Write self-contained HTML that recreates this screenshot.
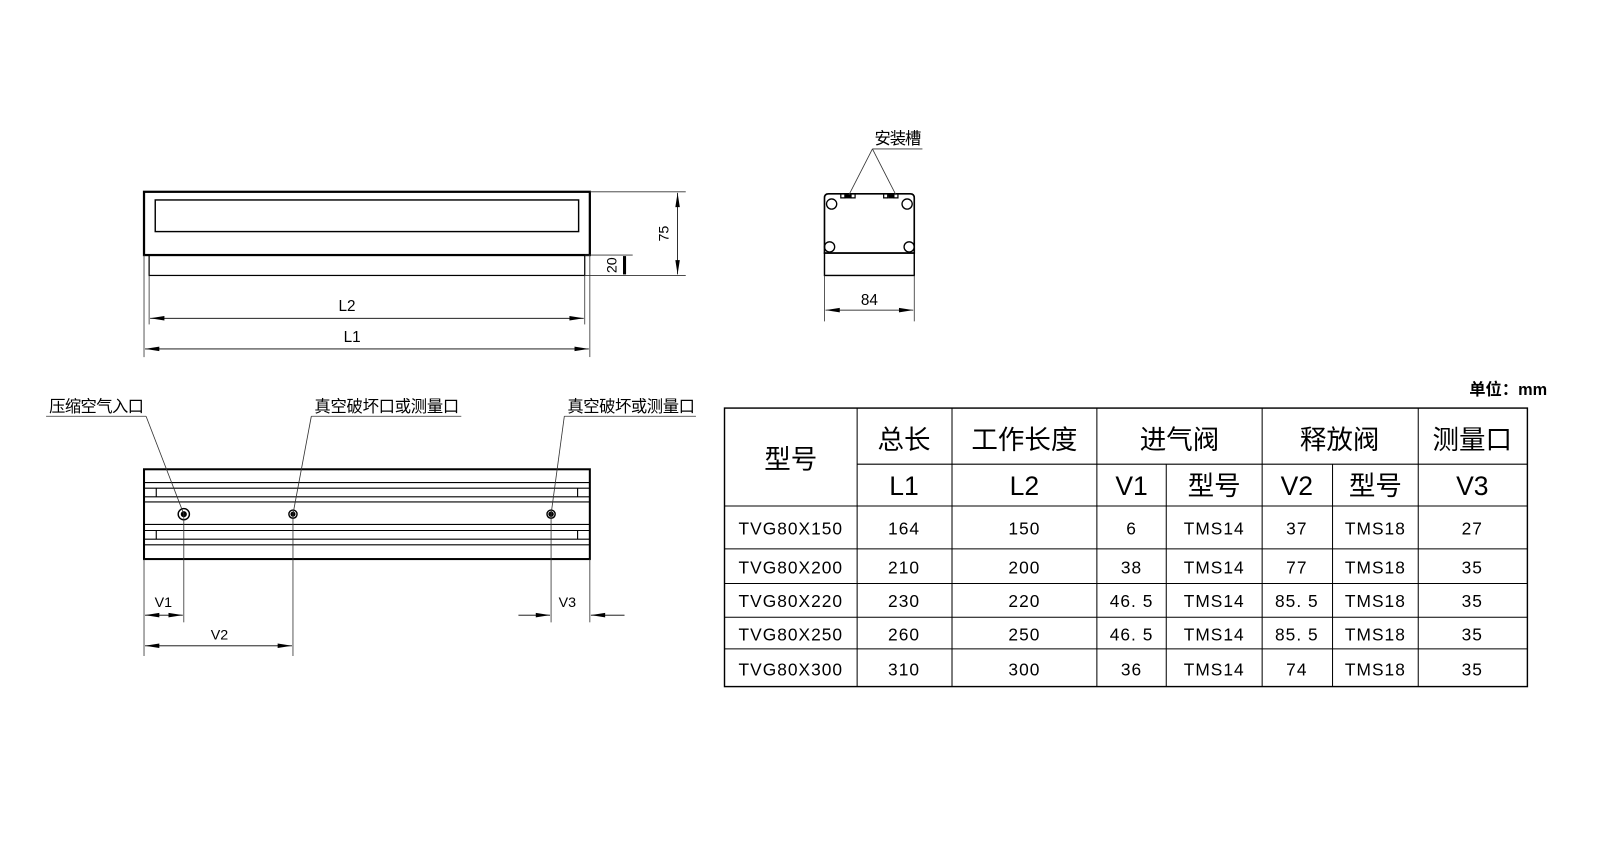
<!DOCTYPE html>
<html><head><meta charset="utf-8"><style>
html,body{margin:0;padding:0;background:#fff;}
svg{display:block}
.c{font-family:"Liberation Sans","Noto Sans CJK SC",sans-serif;}
</style></head><body>
<svg width="1600" height="859" viewBox="0 0 1568 842" xmlns="http://www.w3.org/2000/svg" class="c">
<g fill="none" stroke="#000">
<!-- top view -->
<rect x="141" y="188" width="437" height="62" stroke-width="2.2"/>
<rect x="152" y="196" width="415" height="31" stroke-width="1.4"/>
<rect x="146" y="250" width="427" height="20" stroke-width="1.2"/>
<g stroke-width="0.8" stroke="#333">
<line x1="578" y1="188" x2="672" y2="188"/>
<line x1="573" y1="270" x2="672" y2="270"/>
<line x1="573" y1="250" x2="620" y2="250"/>
<line x1="146" y1="270" x2="146" y2="318"/>
<line x1="573" y1="270" x2="573" y2="318"/>
<line x1="141" y1="250" x2="141" y2="350"/>
<line x1="578" y1="250" x2="578" y2="350"/>
</g>
<line x1="664" y1="189" x2="664" y2="269" stroke-width="0.8"/>
<line x1="612" y1="251" x2="612" y2="269" stroke-width="3"/>
<line x1="147" y1="312" x2="572" y2="312" stroke-width="0.8"/>
<line x1="142" y1="342" x2="577" y2="342" stroke-width="0.8"/>
<!-- side view -->
<path d="M812,190 H892 Q896,190 896,194 V248 H808 V194 Q808,190 812,190Z" stroke-width="1.6"/>
<rect x="808" y="248" width="88" height="22" stroke-width="1.4"/>
<circle cx="815" cy="200" r="5" stroke-width="1.3"/>
<circle cx="889" cy="200" r="5" stroke-width="1.3"/>
<circle cx="813" cy="242" r="5" stroke-width="1.3"/>
<circle cx="891" cy="242" r="5" stroke-width="1.3"/>
<path d="M824,190 v4 h4 v-3 h6 v3 h4 v-4 M866,190 v4 h4 v-3 h6 v3 h4 v-4" stroke-width="1.2"/>
<rect x="829" y="191" width="5" height="3" fill="#000"/>
<rect x="871" y="191" width="5" height="3" fill="#000"/>
<g stroke-width="0.8" stroke="#333">
<line x1="808" y1="270" x2="808" y2="315"/>
<line x1="896" y1="270" x2="896" y2="315"/>
<line x1="855" y1="146" x2="904" y2="146"/>
<line x1="855" y1="146" x2="832" y2="191"/>
<line x1="855" y1="146" x2="878" y2="191"/>
</g>
<line x1="809" y1="304" x2="895" y2="304" stroke-width="0.8"/>
<!-- bottom view -->
<rect x="141" y="460" width="437" height="88" stroke-width="2"/>
<g stroke-width="1.1">
<line x1="141" y1="473" x2="578" y2="473"/><line x1="141" y1="478.5" x2="578" y2="478.5"/>
<line x1="141" y1="487" x2="578" y2="487"/><line x1="141" y1="492" x2="578" y2="492"/>
<line x1="141" y1="514" x2="578" y2="514"/><line x1="141" y1="520" x2="578" y2="520"/>
<line x1="141" y1="528.5" x2="578" y2="528.5"/><line x1="141" y1="534" x2="578" y2="534"/>
<line x1="153" y1="478.5" x2="153" y2="487"/><line x1="566" y1="478.5" x2="566" y2="487"/>
<line x1="153" y1="520" x2="153" y2="528.5"/><line x1="566" y1="520" x2="566" y2="528.5"/>
</g>
<circle cx="180" cy="504" r="5.5" stroke-width="1.4"/>
<circle cx="180" cy="504" r="2.5" fill="#000"/>
<circle cx="287" cy="504" r="4" stroke-width="1.4"/><circle cx="287" cy="504" r="2" fill="#000"/>
<circle cx="540" cy="504" r="4" stroke-width="1.4"/><circle cx="540" cy="504" r="2.2" fill="#000"/>
<g stroke-width="0.8" stroke="#333">
<line x1="180" y1="504" x2="180" y2="610"/>
<line x1="287" y1="504" x2="287" y2="643"/>
<line x1="540" y1="504" x2="540" y2="610"/>
<line x1="141" y1="548" x2="141" y2="643"/>
<line x1="578" y1="548" x2="578" y2="610"/>
<line x1="45" y1="408" x2="143" y2="408"/><line x1="143" y1="408" x2="180" y2="504"/>
<line x1="305" y1="408" x2="452" y2="408"/><line x1="305" y1="408" x2="287" y2="504"/>
<line x1="553" y1="408" x2="682" y2="408"/><line x1="553" y1="408" x2="540" y2="504"/>
</g>
<line x1="142" y1="603" x2="179" y2="603" stroke-width="0.8"/>
<line x1="142" y1="633" x2="286" y2="633" stroke-width="0.8"/>
<line x1="508" y1="603" x2="539" y2="603" stroke-width="0.8"/>
<line x1="612" y1="603" x2="579" y2="603" stroke-width="0.8"/>
<!-- table -->
<rect x="710" y="400" width="787" height="273" stroke-width="1.4"/>
<g stroke-width="1">
<line x1="840" y1="455" x2="1497" y2="455"/>
<line x1="710" y1="496" x2="1497" y2="496"/>
<line x1="710" y1="538" x2="1497" y2="538"/>
<line x1="710" y1="572" x2="1497" y2="572"/>
<line x1="710" y1="605" x2="1497" y2="605"/>
<line x1="710" y1="636" x2="1497" y2="636"/>
<line x1="840" y1="400" x2="840" y2="673"/>
<line x1="933" y1="400" x2="933" y2="673"/>
<line x1="1075" y1="400" x2="1075" y2="673"/>
<line x1="1143" y1="455" x2="1143" y2="673"/>
<line x1="1237" y1="400" x2="1237" y2="673"/>
<line x1="1306" y1="455" x2="1306" y2="673"/>
<line x1="1390" y1="400" x2="1390" y2="673"/>
</g>
</g>
<!-- arrowheads -->
<g fill="#000" stroke="none">
<polygon points="147,312 161,309.8 161,314.2"/><polygon points="572,312 558,309.8 558,314.2"/>
<polygon points="142,342 156,339.8 156,344.2"/><polygon points="577,342 563,339.8 563,344.2"/>
<polygon points="664,189 661.8,203 666.2,203"/><polygon points="664,269 661.8,255 666.2,255"/>
<polygon points="809,304 823,301.8 823,306.2"/><polygon points="895,304 881,301.8 881,306.2"/>
<polygon points="142,603 156,600.8 156,605.2"/><polygon points="179,603 165,600.8 165,605.2"/>
<polygon points="142,633 156,630.8 156,635.2"/><polygon points="286,633 272,630.8 272,635.2"/>
<polygon points="539,603 525,600.8 525,605.2"/><polygon points="579,603 593,600.8 593,605.2"/>
</g>
<g fill="#000" font-size="14">
<text x="340" y="305" text-anchor="middle" font-size="15">L2</text>
<text x="345" y="335" text-anchor="middle" font-size="15">L1</text>
<text transform="translate(655,229) rotate(-90)" text-anchor="middle" font-size="14">75</text>
<text transform="translate(604,260) rotate(-90)" text-anchor="middle" font-size="14">20</text>
<text x="852" y="299" text-anchor="middle" font-size="15">84</text>
<text x="857" y="141" font-size="16" textLength="46">安装槽</text>
<text x="48" y="404" font-size="16" textLength="93">压缩空气入口</text>
<text x="308" y="404" font-size="16" textLength="142">真空破坏口或测量口</text>
<text x="556" y="404" font-size="16" textLength="125">真空破坏或测量口</text>
<text x="160" y="595" text-anchor="middle" font-size="14">V1</text>
<text x="215" y="627" text-anchor="middle" font-size="14">V2</text>
<text x="556" y="595" text-anchor="middle" font-size="14">V3</text>
<text x="1440" y="387" font-size="16" font-weight="bold">单位：mm</text>
</g>
<g fill="#000" text-anchor="middle">
<g font-size="26">
<text x="775" y="459">型号</text>
<text x="886" y="440">总长</text>
<text x="1004" y="440">工作长度</text>
<text x="1156" y="440">进气阀</text>
<text x="1313" y="440">释放阀</text>
<text x="1443" y="440">测量口</text>
<text x="886" y="485">L1</text>
<text x="1004" y="485">L2</text>
<text x="1109" y="485">V1</text>
<text x="1190" y="485">型号</text>
<text x="1271" y="485">V2</text>
<text x="1348" y="485">型号</text>
<text x="1443" y="485">V3</text>
</g>
<g font-size="17" letter-spacing="1">
<text x="775" y="524">TVG80X150</text><text x="886" y="524">164</text><text x="1004" y="524">150</text><text x="1109" y="524">6</text><text x="1190" y="524">TMS14</text><text x="1271" y="524">37</text><text x="1348" y="524">TMS18</text><text x="1443" y="524">27</text>
<text x="775" y="562">TVG80X200</text><text x="886" y="562">210</text><text x="1004" y="562">200</text><text x="1109" y="562">38</text><text x="1190" y="562">TMS14</text><text x="1271" y="562">77</text><text x="1348" y="562">TMS18</text><text x="1443" y="562">35</text>
<text x="775" y="595">TVG80X220</text><text x="886" y="595">230</text><text x="1004" y="595">220</text><text x="1109" y="595">46. 5</text><text x="1190" y="595">TMS14</text><text x="1271" y="595">85. 5</text><text x="1348" y="595">TMS18</text><text x="1443" y="595">35</text>
<text x="775" y="628">TVG80X250</text><text x="886" y="628">260</text><text x="1004" y="628">250</text><text x="1109" y="628">46. 5</text><text x="1190" y="628">TMS14</text><text x="1271" y="628">85. 5</text><text x="1348" y="628">TMS18</text><text x="1443" y="628">35</text>
<text x="775" y="662">TVG80X300</text><text x="886" y="662">310</text><text x="1004" y="662">300</text><text x="1109" y="662">36</text><text x="1190" y="662">TMS14</text><text x="1271" y="662">74</text><text x="1348" y="662">TMS18</text><text x="1443" y="662">35</text>
</g>
</g>
</svg>
</body></html>
